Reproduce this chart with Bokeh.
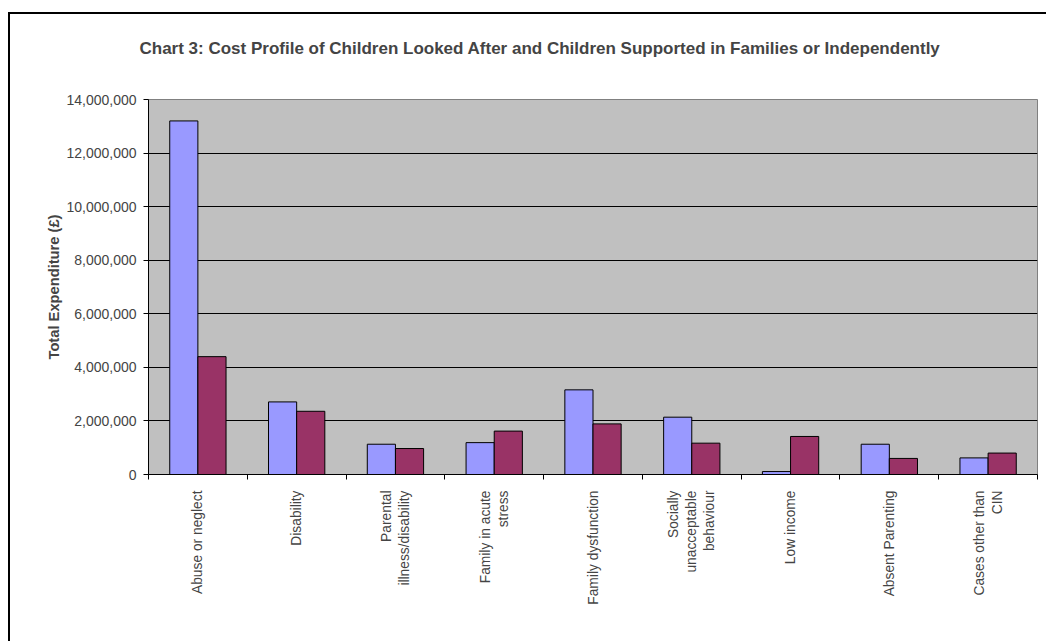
import math
from bokeh.plotting import figure
from bokeh.models import (Range1d, LinearAxis, FixedTicker, Title,
                          NumeralTickFormatter, ColumnDataSource, Legend, LegendItem)
from bokeh.transform import dodge
from bokeh.embed import file_html
from bokeh.resources import INLINE

categories = ["Abuse or neglect", "Disability", "Parental\nillness/disability",
              "Family in acute\nstress", "Family dysfunction",
              "Socially\nunacceptable\nbehaviour", "Low income", "Absent Parenting",
              "Cases other than\nCIN"]
looked_after = [13200000, 2710000, 1130000, 1190000, 3160000, 2140000, 110000, 1130000, 620000]
supported = [4400000, 2360000, 970000, 1620000, 1890000, 1170000, 1420000, 600000, 800000]
y_ticks = [0, 2000000, 4000000, 6000000, 8000000, 10000000, 12000000, 14000000]
title_text = "Chart 3: Cost Profile of Children Looked After and Children Supported in Families or Independently"

FONT = "Liberation Sans"

n = len(categories)
centers = [i + 0.5 for i in range(n)]
bounds = list(range(n + 1))
src = ColumnDataSource(dict(x=centers, la=looked_after, sp=supported))

p = figure(x_range=Range1d(0, n), y_range=Range1d(0, 14000000),
           frame_width=889, frame_height=375, output_backend="svg", toolbar_location=None,
           x_axis_location=None, y_axis_location=None,
           min_border_left=138, min_border_top=85, min_border_right=9, min_border_bottom=150)
p.margin = (12, 0, 0, 8)
p.styles = {"border-left": "2px solid black", "border-top": "2px solid black"}

p.background_fill_color = "#C0C0C0"
p.border_fill_color = "white"
p.outline_line_color = "#808080"
p.outline_line_width = 1

# title: a blank spacer next to the frame, then the real title above it
p.title.text = ""
spacer = Title(text=" ", text_font_size="1px", standoff=34)
p.add_layout(spacer, "above")
title = Title(text=title_text, align="left", offset=-9, standoff=10,
              text_font=FONT, text_font_size="17px", text_font_style="bold")
p.add_layout(title, "above")

r1 = p.vbar(x=dodge("x", -0.1425), top="la", width=0.285, source=src,
            fill_color="#9999FF", line_color="black", line_width=1)
r2 = p.vbar(x=dodge("x", 0.1425), top="sp", width=0.285, source=src,
            fill_color="#993366", line_color="black", line_width=1)

# y axis
yax = LinearAxis(ticker=FixedTicker(ticks=y_ticks), formatter=NumeralTickFormatter(format="0,0"))
yax.axis_label = "Total Expenditure (£)"
yax.axis_label_text_font = FONT
yax.axis_label_text_font_size = "14.7px"
yax.axis_label_text_font_style = "bold"
yax.axis_label_standoff = 1
yax.major_label_text_font = FONT
yax.major_label_text_font_size = "14px"
yax.major_label_standoff = 7
yax.major_tick_out = 5
yax.major_tick_in = 0
yax.minor_tick_line_color = None
yax.axis_line_color = "black"
yax.major_tick_line_color = "black"
p.add_layout(yax, "left")

# grid
p.ygrid.ticker = FixedTicker(ticks=y_ticks)
p.ygrid.grid_line_color = "black"
p.ygrid.grid_line_width = 1
p.xgrid.grid_line_color = None

# x axis: labels at group centres, tick marks (minor) at group boundaries
xax = LinearAxis(ticker=FixedTicker(ticks=centers, minor_ticks=bounds),
                 major_label_overrides={c: lab for c, lab in zip(centers, categories)})
xax.axis_line_color = "black"
xax.major_tick_line_color = None
xax.major_tick_out = 0
xax.major_tick_in = 0
xax.minor_tick_line_color = "black"
xax.minor_tick_out = 5
xax.minor_tick_in = 0
xax.major_label_orientation = math.pi / 2
xax.major_label_text_font = FONT
xax.major_label_text_font_size = "13.8px"
xax.major_label_standoff = 11
p.add_layout(xax, "below")

legend = Legend(items=[LegendItem(label="Children Looked After", renderers=[r1]),
                       LegendItem(label="Children Supported in Families or Independently", renderers=[r2])],
                orientation="horizontal", location="center")
legend.border_line_color = "black"
legend.border_line_width = 1
legend.background_fill_color = "white"
legend.background_fill_alpha = 1
legend.label_text_font = FONT
legend.label_text_font_size = "14px"
legend.glyph_width = 9
legend.glyph_height = 9
legend.label_standoff = 2
legend.spacing = 8
legend.padding = 5
legend.margin = 0
legend.label_height = 14
p.add_layout(legend, "below")

open("out.html", "w").write(file_html(p, INLINE))
